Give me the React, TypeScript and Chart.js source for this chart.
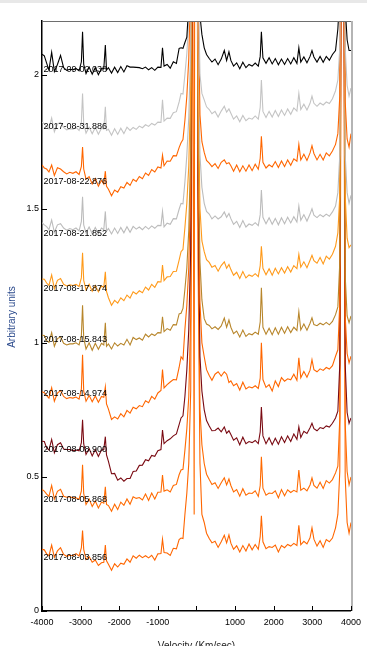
import React, { useEffect, useRef } from 'react';
import { Chart, registerables } from 'chart.js';

Chart.register(...registerables);

const velocity = [
  -4000, -3940, -3880, -3820, -3750, -3680, -3600, -3520, -3440, -3360,
  -3280, -3200, -3120, -3040, -2980, -2950, -2920, -2860, -2780, -2700,
  -2620, -2540, -2460, -2400, -2360, -2330, -2280, -2200, -2120, -2040,
  -1960, -1880, -1800, -1720, -1640, -1560, -1480, -1400, -1320, -1240,
  -1160, -1080, -1000, -920, -880, -840, -760, -680, -600, -520,
  -450, -400, -350, -300, -250, -200, -150, -100, -60, -30,
  0, 40, 90, 140, 200, 260, 330, 400, 480, 560,
  640, 720, 780, 840, 890, 960, 1040, 1120, 1200, 1280,
  1360, 1440, 1520, 1600, 1650, 1680, 1720, 1800, 1880, 1960,
  2040, 2120, 2200, 2280, 2360, 2440, 2520, 2600, 2650, 2700,
  2780, 2860, 2940, 2990, 3040, 3120, 3200, 3280, 3360, 3440,
  3520, 3600, 3660, 3710, 3750, 3780, 3810, 3850, 3900, 3950,
  4000,
];

const s0902 = [
  2.076, 2.07, 2.043, 2.017, 2.083, 2.012, 2.038, 2.072, 2.026, 2.016,
  2.02, 2.018, 2.023, 2.014, 2.048, 2.16, 2.038, 2.004, 2.028, 2.002,
  2.026, 2.0, 2.023, 2.022, 2.11, 2.017, 2.026, 2.006, 2.028, 2.008,
  2.03, 2.01, 2.033, 2.028, 2.028, 2.027, 2.026, 2.022, 2.028, 2.018,
  2.026, 2.016, 2.028, 2.027, 2.1, 2.032, 2.038, 2.024, 2.048, 2.042,
  2.098, 2.1, 2.098, 2.12, 2.14, 2.26, 2.55, 4.0, 6.5, 6.3,
  4.7, 2.5, 2.22, 2.15, 2.1, 2.075, 2.06, 2.047, 2.058, 2.037,
  2.058, 2.09, 2.053, 2.085, 2.053, 2.032, 2.044, 2.022, 2.046, 2.026,
  2.038, 2.032, 2.043, 2.032, 2.068, 2.16, 2.063, 2.042, 2.063, 2.04,
  2.06, 2.037, 2.058, 2.038, 2.06, 2.04, 2.063, 2.042, 2.1, 2.047,
  2.066, 2.044, 2.068, 2.09, 2.066, 2.047, 2.068, 2.046, 2.068, 2.054,
  2.075, 2.09, 2.17, 2.3, 4.0, 6.5, 4.0, 2.25, 2.13, 2.09,
  2.09,
];

const s0831 = [
  1.823, 1.817, 1.808, 1.798, 1.838, 1.787, 1.816, 1.822, 1.803, 1.794,
  1.798, 1.797, 1.803, 1.792, 1.823, 1.93, 1.818, 1.782, 1.804, 1.78,
  1.803, 1.778, 1.8, 1.797, 1.88, 1.792, 1.796, 1.774, 1.798, 1.777,
  1.8, 1.78, 1.804, 1.792, 1.803, 1.796, 1.808, 1.802, 1.813, 1.807,
  1.818, 1.812, 1.823, 1.822, 1.906, 1.827, 1.838, 1.837, 1.858, 1.862,
  1.898, 1.93, 1.928, 2.0, 2.08, 2.2, 2.5, 4.0, 6.4, 6.2,
  4.6, 2.4, 2.0, 1.93, 1.906, 1.88, 1.87, 1.854, 1.863, 1.842,
  1.864, 1.882, 1.86, 1.872, 1.856, 1.834, 1.846, 1.824, 1.848, 1.828,
  1.838, 1.834, 1.846, 1.834, 1.878, 1.98, 1.863, 1.84, 1.863, 1.842,
  1.866, 1.844, 1.868, 1.848, 1.872, 1.852, 1.876, 1.864, 1.93, 1.87,
  1.89, 1.868, 1.893, 1.92, 1.893, 1.882, 1.894, 1.887, 1.898, 1.892,
  1.91, 1.94, 1.98, 2.1, 4.0, 6.4, 4.0, 2.1, 1.96, 1.92,
  1.95,
];

const s0822 = [
  1.663, 1.652, 1.648, 1.637, 1.663, 1.624, 1.653, 1.648, 1.638, 1.63,
  1.636, 1.632, 1.638, 1.628, 1.658, 1.73, 1.648, 1.61, 1.62, 1.592,
  1.613, 1.584, 1.606, 1.592, 1.64, 1.584, 1.573, 1.548, 1.57, 1.562,
  1.582, 1.577, 1.598, 1.587, 1.61, 1.602, 1.62, 1.612, 1.633, 1.624,
  1.646, 1.637, 1.656, 1.652, 1.7, 1.66, 1.678, 1.677, 1.698, 1.697,
  1.728, 1.746, 1.758, 1.83, 1.92, 2.06, 2.35, 3.8, 6.2, 6.0,
  4.5, 2.3, 1.85, 1.75, 1.71, 1.68, 1.67, 1.657, 1.668, 1.65,
  1.673, 1.682, 1.668, 1.672, 1.66, 1.64, 1.663, 1.638, 1.66, 1.64,
  1.663, 1.642, 1.666, 1.647, 1.688, 1.77, 1.673, 1.652, 1.664, 1.656,
  1.676, 1.654, 1.678, 1.657, 1.682, 1.662, 1.686, 1.677, 1.74, 1.682,
  1.703, 1.68, 1.708, 1.735, 1.706, 1.682, 1.703, 1.682, 1.708, 1.697,
  1.715, 1.74, 1.78, 1.92, 3.9, 6.3, 3.9, 1.9, 1.76, 1.73,
  1.78,
];

const s0821 = [
  1.448, 1.44, 1.433, 1.422, 1.458, 1.412, 1.44, 1.444, 1.428, 1.42,
  1.426, 1.422, 1.428, 1.417, 1.453, 1.545, 1.44, 1.41, 1.432, 1.407,
  1.43, 1.408, 1.428, 1.422, 1.49, 1.417, 1.426, 1.406, 1.428, 1.408,
  1.43, 1.41, 1.433, 1.412, 1.434, 1.424, 1.432, 1.422, 1.434, 1.424,
  1.436, 1.427, 1.438, 1.437, 1.49, 1.432, 1.446, 1.442, 1.463, 1.462,
  1.498, 1.52, 1.518, 1.6, 1.7, 1.84, 2.1, 3.6, 6.2, 6.0,
  4.5, 2.2, 1.7, 1.58, 1.52, 1.49, 1.48, 1.462, 1.473, 1.462,
  1.47, 1.488, 1.468, 1.482, 1.463, 1.442, 1.453, 1.43, 1.456, 1.432,
  1.443, 1.438, 1.448, 1.437, 1.478, 1.57, 1.468, 1.444, 1.466, 1.442,
  1.464, 1.44, 1.466, 1.444, 1.468, 1.447, 1.47, 1.45, 1.51, 1.457,
  1.478, 1.454, 1.48, 1.5, 1.476, 1.467, 1.478, 1.47, 1.48, 1.472,
  1.488, 1.51, 1.56, 1.7, 3.7, 6.2, 3.7, 1.7, 1.56, 1.52,
  1.55,
];

const s0817 = [
  1.238, 1.237, 1.223, 1.214, 1.253, 1.202, 1.233, 1.24, 1.218, 1.212,
  1.216, 1.214, 1.218, 1.21, 1.243, 1.336, 1.233, 1.197, 1.218, 1.192,
  1.214, 1.19, 1.212, 1.207, 1.265, 1.192, 1.168, 1.14, 1.158, 1.148,
  1.168, 1.157, 1.178, 1.167, 1.19, 1.182, 1.194, 1.187, 1.208, 1.197,
  1.218, 1.207, 1.228, 1.227, 1.29, 1.232, 1.246, 1.247, 1.266, 1.267,
  1.308, 1.34, 1.348, 1.43, 1.52, 1.66, 1.95, 3.4, 6.0, 5.9,
  4.3, 2.0, 1.5, 1.38, 1.34, 1.31, 1.3, 1.282, 1.288, 1.267,
  1.288, 1.302, 1.278, 1.292, 1.273, 1.252, 1.263, 1.24, 1.266, 1.242,
  1.253, 1.248, 1.258, 1.247, 1.288, 1.36, 1.278, 1.254, 1.276, 1.252,
  1.278, 1.257, 1.28, 1.26, 1.284, 1.264, 1.288, 1.277, 1.33, 1.282,
  1.302, 1.28, 1.308, 1.326, 1.306, 1.297, 1.318, 1.294, 1.323, 1.312,
  1.33, 1.36, 1.41, 1.55, 3.5, 6.0, 3.5, 1.55, 1.39, 1.355,
  1.365,
];

const s0815 = [
  1.028, 1.027, 1.008, 1.002, 1.038, 0.987, 1.016, 1.022, 0.998, 0.992,
  0.996, 0.996, 1.0, 0.992, 1.028, 1.14, 1.018, 0.977, 1.0, 0.972,
  0.998, 0.976, 0.998, 0.992, 1.075, 0.987, 0.996, 0.977, 1.0, 0.988,
  0.998, 0.992, 1.013, 0.992, 1.02, 1.012, 1.018, 1.01, 1.032, 1.022,
  1.033, 1.027, 1.038, 1.037, 1.097, 1.042, 1.053, 1.047, 1.068, 1.067,
  1.108, 1.11, 1.128, 1.2, 1.28, 1.42, 1.72, 3.2, 5.6, 5.8,
  4.2, 1.8, 1.3, 1.16, 1.09, 1.07, 1.065, 1.052, 1.06, 1.05,
  1.063, 1.092, 1.058, 1.085, 1.058, 1.034, 1.044, 1.022, 1.048, 1.024,
  1.034, 1.03, 1.04, 1.032, 1.078, 1.205, 1.058, 1.032, 1.054, 1.03,
  1.056, 1.032, 1.058, 1.036, 1.06, 1.038, 1.058, 1.046, 1.116, 1.048,
  1.07, 1.047, 1.073, 1.093, 1.068, 1.064, 1.073, 1.067, 1.076, 1.067,
  1.08, 1.105, 1.134, 1.3, 3.4, 6.0, 3.4, 1.25, 1.1, 1.075,
  1.1,
];

const s0814 = [
  0.818, 0.814, 0.803, 0.794, 0.833, 0.782, 0.813, 0.822, 0.8, 0.792,
  0.796, 0.794, 0.798, 0.79, 0.828, 0.955, 0.82, 0.782, 0.804, 0.78,
  0.802, 0.778, 0.8, 0.797, 0.836, 0.772, 0.753, 0.714, 0.724, 0.716,
  0.736, 0.724, 0.748, 0.738, 0.76, 0.754, 0.766, 0.762, 0.784, 0.777,
  0.8, 0.79, 0.813, 0.822, 0.9, 0.832, 0.844, 0.854, 0.863, 0.862,
  0.908, 0.948, 0.938, 1.05, 1.14, 1.28, 1.6, 3.0, 5.6, 5.5,
  4.0, 1.7, 1.15, 1.0, 0.948, 0.9, 0.878, 0.86, 0.883, 0.892,
  0.876, 0.892, 0.883, 0.852, 0.858, 0.84, 0.848, 0.824, 0.853, 0.828,
  0.836, 0.832, 0.84, 0.83, 0.868, 1.0, 0.863, 0.834, 0.844, 0.82,
  0.858, 0.837, 0.87, 0.857, 0.866, 0.862, 0.883, 0.86, 0.944, 0.87,
  0.893, 0.872, 0.898, 0.937, 0.9, 0.892, 0.903, 0.897, 0.908, 0.902,
  0.915, 0.95, 0.974, 1.15, 3.2, 5.8, 3.2, 1.1, 0.96, 0.925,
  0.95,
];

const s0808 = [
  0.633, 0.632, 0.608, 0.6, 0.64, 0.59, 0.62, 0.627, 0.604, 0.602,
  0.602, 0.598, 0.6, 0.597, 0.628, 0.713, 0.623, 0.584, 0.606, 0.578,
  0.602, 0.576, 0.6, 0.602, 0.65, 0.582, 0.558, 0.512, 0.513, 0.488,
  0.496, 0.484, 0.494, 0.494, 0.52, 0.522, 0.543, 0.544, 0.564, 0.56,
  0.58, 0.577, 0.598, 0.602, 0.675, 0.624, 0.635, 0.642, 0.653, 0.66,
  0.695, 0.72, 0.728, 0.8, 0.9, 1.05, 1.35, 2.8, 5.6, 5.5,
  4.0, 1.6, 0.95, 0.82, 0.75, 0.71, 0.69, 0.672, 0.673, 0.682,
  0.668, 0.686, 0.663, 0.672, 0.658, 0.637, 0.646, 0.62, 0.648, 0.624,
  0.632, 0.628, 0.636, 0.624, 0.668, 0.761, 0.653, 0.624, 0.646, 0.62,
  0.644, 0.622, 0.65, 0.628, 0.653, 0.632, 0.66, 0.64, 0.687, 0.647,
  0.67, 0.662, 0.683, 0.7, 0.68, 0.672, 0.684, 0.68, 0.69, 0.686,
  0.7, 0.72, 0.745, 0.92, 3.0, 5.6, 3.0, 0.92, 0.74, 0.7,
  0.72,
];

const s0805 = [
  0.453, 0.447, 0.436, 0.427, 0.468, 0.417, 0.446, 0.454, 0.428, 0.424,
  0.426, 0.422, 0.422, 0.417, 0.448, 0.545, 0.438, 0.397, 0.418, 0.39,
  0.41, 0.384, 0.406, 0.402, 0.463, 0.397, 0.393, 0.372, 0.398, 0.378,
  0.406, 0.394, 0.418, 0.398, 0.426, 0.42, 0.423, 0.414, 0.436, 0.412,
  0.44, 0.418, 0.443, 0.444, 0.507, 0.447, 0.452, 0.444, 0.468, 0.472,
  0.508, 0.526, 0.528, 0.6, 0.68, 0.8, 1.1, 2.7, 0.36, 5.5,
  4.0, 1.5, 0.75, 0.62, 0.55, 0.51, 0.49, 0.472, 0.478, 0.457,
  0.478, 0.497, 0.47, 0.492, 0.468, 0.444, 0.453, 0.428, 0.456, 0.432,
  0.44, 0.438, 0.448, 0.427, 0.468, 0.575, 0.458, 0.432, 0.44, 0.438,
  0.448, 0.422, 0.453, 0.43, 0.452, 0.442, 0.45, 0.444, 0.526, 0.45,
  0.458, 0.448, 0.47, 0.496, 0.468, 0.458, 0.48, 0.457, 0.486, 0.477,
  0.49, 0.515, 0.54, 0.72, 2.9, 5.5, 2.9, 0.7, 0.52, 0.47,
  0.5,
];

const s0803 = [
  0.23, 0.228, 0.213, 0.206, 0.246, 0.2, 0.224, 0.236, 0.211, 0.204,
  0.208, 0.206, 0.214, 0.205, 0.236, 0.3, 0.23, 0.192, 0.203, 0.182,
  0.19, 0.17, 0.18, 0.182, 0.246, 0.187, 0.174, 0.152, 0.176, 0.164,
  0.178, 0.174, 0.194, 0.182, 0.206, 0.197, 0.208, 0.199, 0.206, 0.198,
  0.208, 0.19, 0.213, 0.214, 0.268, 0.218, 0.216, 0.207, 0.234, 0.232,
  0.266, 0.272, 0.27, 0.36, 0.44, 0.55, 0.82, 2.4, 5.2, 5.0,
  3.6, 1.3, 0.55, 0.36, 0.33, 0.29, 0.27, 0.254, 0.26, 0.237,
  0.258, 0.282, 0.254, 0.284, 0.253, 0.23, 0.243, 0.22, 0.244, 0.224,
  0.25, 0.228, 0.248, 0.23, 0.278, 0.355, 0.258, 0.232, 0.24, 0.237,
  0.246, 0.22, 0.244, 0.236, 0.248, 0.242, 0.252, 0.244, 0.32, 0.247,
  0.26, 0.25, 0.273, 0.31, 0.268, 0.242, 0.262, 0.237, 0.266, 0.258,
  0.272, 0.31, 0.36, 0.52, 2.6, 5.2, 2.7, 0.5, 0.33, 0.29,
  0.33,
];

const seriesValues = [s0902, s0831, s0822, s0821, s0817, s0815, s0814, s0808, s0805, s0803];
const seriesNames = [
  '2017-09-02.038', '2017-08-31.886', '2017-08-22.876', '2017-08-21.852', '2017-08-17.874',
  '2017-08-15.843', '2017-08-14.974', '2017-08-08.900', '2017-08-05.868', '2017-08-03.856',
];
const seriesColors = [
  '#000000', '#c4c4c4', '#ff6600', '#bcbcbc', '#ff9a1a',
  '#b8862b', '#ff6600', '#7a0a12', '#ff6a00', '#ff6600',
];
const labelLevels = [2.02, 1.808, 1.603, 1.409, 1.203, 1.011, 0.812, 0.601, 0.414, 0.198];
const xTickValues = [-4000, -3000, -2000, -1000, 0, 1000, 2000, 3000, 4000];
const yTickValues = [0, 0.5, 1, 1.5, 2];

const FONT = '"Liberation Sans", Arial, sans-serif';

export default function App() {
  const ref = useRef<HTMLCanvasElement>(null);

  useEffect(() => {
    const canvas = ref.current;
    if (!canvas) return;
    const datasets = seriesValues.map((vals, i) => ({
      label: seriesNames[i],
      data: vals.map((y, j) => ({ x: velocity[j], y })),
      borderColor: seriesColors[i],
      backgroundColor: seriesColors[i],
      borderWidth: 1.1,
      pointRadius: 0,
      fill: false,
      tension: 0,
    }));

    const overlay = {
      id: 'overlay',
      afterDatasetsDraw(chart: any) {
        const { ctx, chartArea, scales } = chart;
        const xs = scales.x;
        const ys = scales.y;
        ctx.save();
        ctx.strokeStyle = '#6e6e6e';
        ctx.lineWidth = 1;
        ctx.beginPath();
        ctx.moveTo(chartArea.left, chartArea.top + 0.5);
        ctx.lineTo(chartArea.right, chartArea.top + 0.5);
        ctx.stroke();
        ctx.strokeStyle = '#b4b4b4';
        ctx.lineWidth = 2;
        ctx.beginPath();
        ctx.moveTo(chartArea.right + 1, chartArea.top);
        ctx.lineTo(chartArea.right + 1, chartArea.bottom);
        ctx.stroke();
        ctx.strokeStyle = '#000';
        ctx.lineWidth = 1;
        ctx.beginPath();
        xTickValues.forEach((v) => {
          const px = Math.round(xs.getPixelForValue(v)) + 0.5;
          ctx.moveTo(px, chartArea.bottom);
          ctx.lineTo(px, chartArea.bottom - 5);
        });
        yTickValues.forEach((v) => {
          const py = Math.round(ys.getPixelForValue(v)) + 0.5;
          ctx.moveTo(chartArea.left, py);
          ctx.lineTo(chartArea.left + 5, py);
        });
        ctx.stroke();
        ctx.fillStyle = '#000';
        ctx.font = '9px ' + FONT;
        ctx.textAlign = 'left';
        ctx.textBaseline = 'middle';
        seriesNames.forEach((name, i) => {
          ctx.fillText(name, chartArea.left + 1.5, ys.getPixelForValue(labelLevels[i]));
        });
        ctx.font = '10px ' + FONT;
        ctx.fillStyle = '#2b4a8c';
        ctx.save();
        ctx.translate(12, (chartArea.top + chartArea.bottom) / 2 + 1);
        ctx.rotate(-Math.PI / 2);
        ctx.textAlign = 'center';
        ctx.textBaseline = 'middle';
        ctx.fillText('Arbitrary units', 0, 0);
        ctx.restore();
        ctx.fillStyle = '#222';
        ctx.textAlign = 'center';
        ctx.textBaseline = 'top';
        ctx.fillText('Velocity (Km/sec)', xs.getPixelForValue(0), 641);
        ctx.restore();
      },
    };

    const chart = new Chart(canvas, {
      type: 'line',
      data: { datasets: datasets as any },
      options: {
        responsive: false,
        animation: false,
        devicePixelRatio: 1,
        layout: { padding: { top: 21, right: 12, left: 0, bottom: 0 } },
        plugins: { legend: { display: false }, tooltip: { enabled: false }, title: { display: false } },
        scales: {
          x: {
            type: 'linear',
            min: -4000,
            max: 4000,
            afterBuildTicks: (s: any) => {
              s.ticks = xTickValues.map((v) => ({ value: v }));
            },
            afterFit: (s: any) => {
              s.height = 35;
            },
            grid: { display: false, drawTicks: false },
            border: { display: true, color: '#000', width: 1.5 },
            ticks: {
              padding: 6,
              color: '#000',
              font: { family: FONT, size: 9 },
              maxRotation: 0,
              autoSkip: false,
              callback: (v: any) => (Number(v) === 0 ? '' : String(v)),
            },
          },
          y: {
            type: 'linear',
            min: 0,
            max: 2.2,
            afterBuildTicks: (s: any) => {
              s.ticks = yTickValues.map((v) => ({ value: v }));
            },
            afterFit: (s: any) => {
              s.width = 42;
            },
            grid: { display: false, drawTicks: false },
            border: { display: true, color: '#000', width: 1.5 },
            ticks: {
              padding: 3,
              color: '#000',
              font: { family: FONT, size: 9 },
              autoSkip: false,
              callback: (v: any) => String(v),
            },
          },
        },
      },
      plugins: [overlay],
    });
    return () => chart.destroy();
  }, []);

  return (
    <div style={{ position: 'fixed', left: 0, top: 0, width: 367, height: 646, background: '#fff', overflow: 'hidden' }}>
      <canvas ref={ref} width={367} height={646} style={{ display: 'block', width: 367, height: 646 }} />
      <div style={{ position: 'absolute', left: 0, top: 0, width: 367, height: 3, background: '#e8e8e8' }} />
    </div>
  );
}
